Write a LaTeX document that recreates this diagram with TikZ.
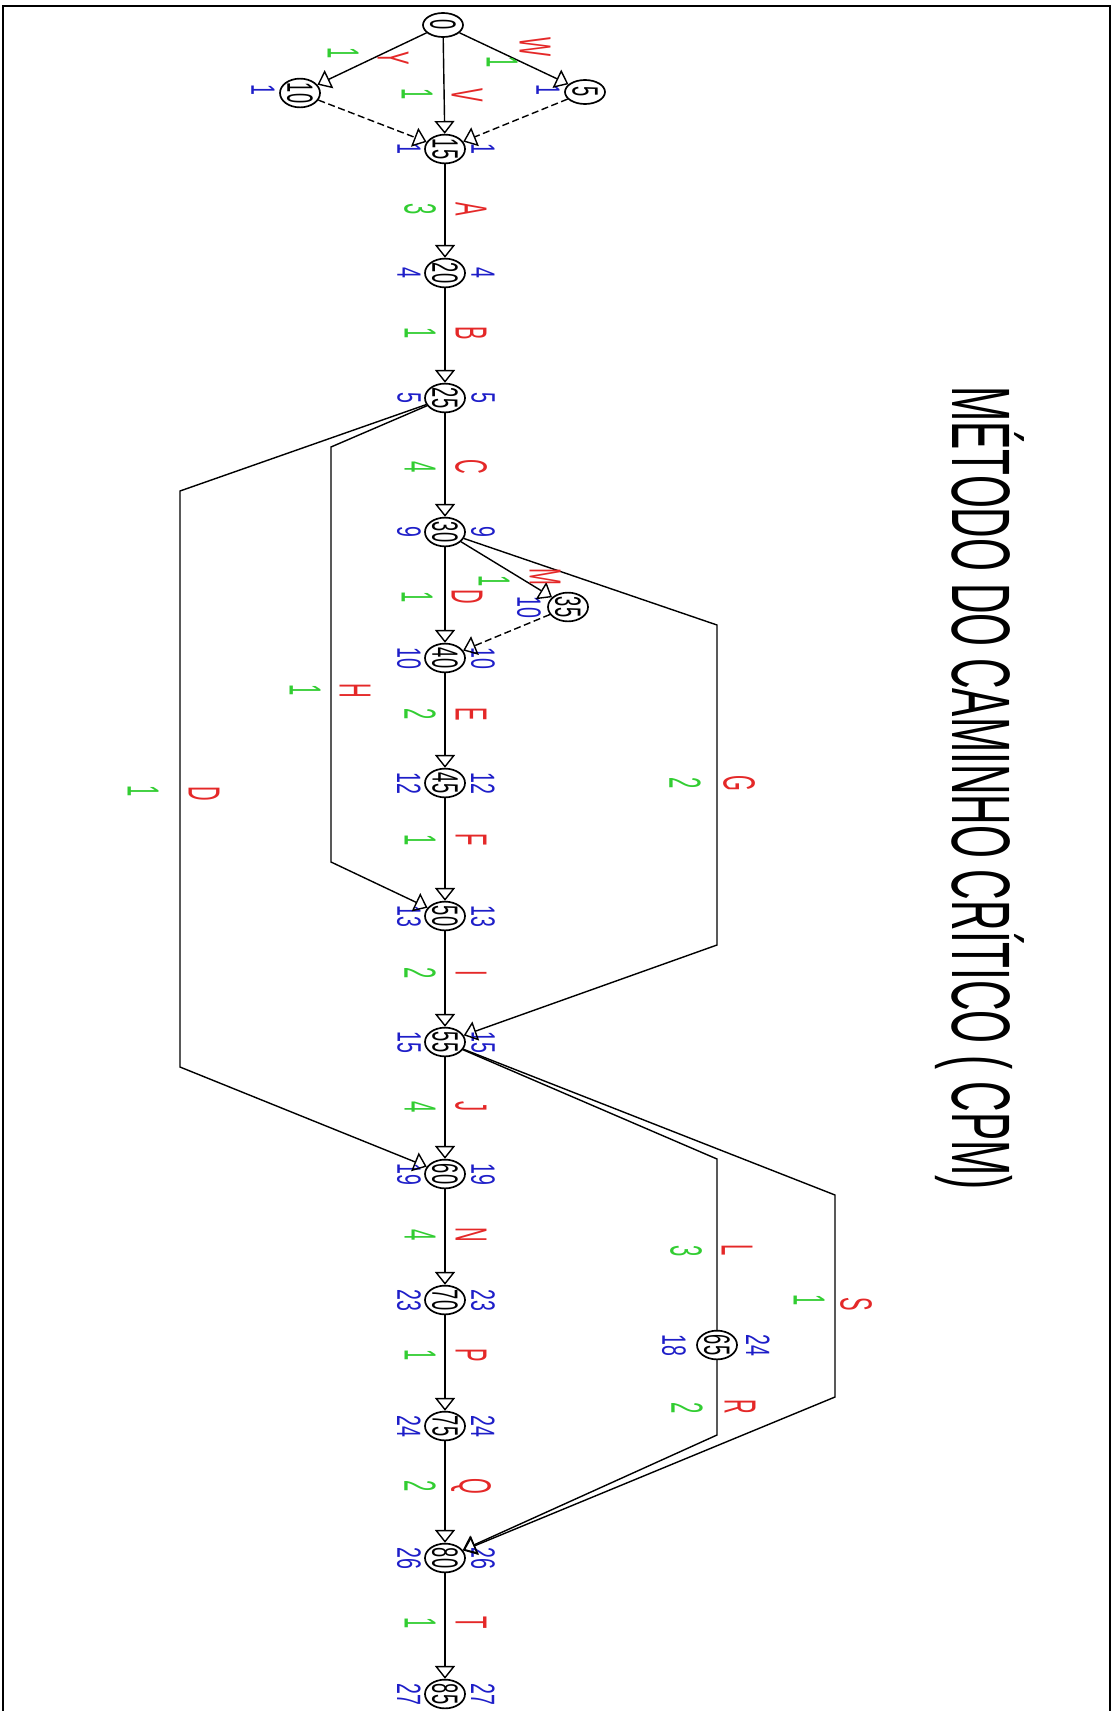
\documentclass[tikz,border=0pt]{standalone}
\usepackage{fontspec}
\setmainfont{Liberation Sans}
\usetikzlibrary{arrows.meta,shapes.geometric}
\definecolor{cadred}{RGB}{228,40,40}
\definecolor{cadgreen}{RGB}{50,205,50}
\definecolor{cadblue}{RGB}{30,30,200}
\newcommand{\cadtxt}[2][.5]{\scalebox{#1}[1]{#2}}
\tikzset{>={Triangle[open,length=3.2mm,width=5mm]},
  ev/.style={draw,ellipse,rotate=-90,line width=1.2pt,minimum width=.6cm,minimum height=1cm,
    inner sep=0pt,font=\fontsize{26}{26}\selectfont},
  actname/.style={text=cadred,rotate=-90,inner sep=0pt,font=\fontsize{32}{32}\selectfont},
  dur/.style={text=cadgreen,rotate=-90,inner sep=0pt,font=\fontsize{32}{32}\selectfont},
  tm/.style={text=cadblue,rotate=-90,inner sep=0pt,font=\fontsize{24}{24}\selectfont},
  arc/.style={->,line width=1pt},
  dummy/.style={->,line width=1pt,dash pattern=on 5pt off 2.5pt}}
\begin{document}
\begin{tikzpicture}[x=.025cm,y=-.025cm]
\useasboundingbox (0,0) rectangle (1115,1711);
\draw[line width=1.5pt] (3,1730) -- (3,6) -- (1110,6) -- (1110,1730);
\node[rotate=-90,inner sep=0pt,font=\fontsize{59}{59}\selectfont] (title) at (980,788)
  {\cadtxt[.51]{MÉTODO DO CAMINHO CRÍTICO ( CPM)}};
% events off the main line
\node[ev] (n0) at (443,25) {\cadtxt{0}};
\node[ev] (n10) at (300,93) {\cadtxt{10}};
\node[ev] (n5) at (585,92) {\cadtxt{5}};
\node[ev] (n35) at (568,607) {\cadtxt{35}};
\node[ev] (n65) at (717,1345) {\cadtxt{65}};
\node[tm] (l10) at (263,90) {\cadtxt[.58]{1}};
\node[tm] (l5) at (548,90) {\cadtxt[.58]{1}};
\node[tm] (l35) at (529,607) {\cadtxt[.58]{10}};
\node[tm] (l65) at (674,1345) {\cadtxt[.58]{18}};
\node[tm] (r65) at (758,1345) {\cadtxt[.58]{24}};
% events on the main line, with early / late times
\foreach \n/\yy/\t in {15/149/1,20/273/4,25/398/5,30/532/9,40/658/10,45/783/12,50/916/13,
  55/1042/15,60/1174/19,70/1300/23,75/1426/24,80/1558/26,85/1694/27}{
  \node[ev] (n\n) at (445,\yy) {\cadtxt{\n}};
  \node[tm] (l\n) at (409,\yy) {\cadtxt[.58]{\t}};
  \node[tm] (r\n) at (483,\yy) {\cadtxt[.58]{\t}};}
% start
\draw[arc] (n0) -- (n10);
\draw[arc] (n0) -- (n5);
\draw[arc] (n0) -- (n15);
\draw[dummy] (n10) -- (n15);
\draw[dummy] (n5) -- (n15);
\foreach \a/\b in {15/20,20/25,25/30,30/40,40/45,45/50,50/55,55/60,60/70,70/75,75/80,80/85}
  \draw[arc] (n\a) -- (n\b);
\draw[arc] (n30) -- (n35);
\draw[dummy] (n35) -- (n40);
% detours
\coordinate (cD1) at (180,491);
\coordinate (cD2) at (180,1067);
\coordinate (cH1) at (331,447);
\coordinate (cH2) at (331,862);
\coordinate (cG1) at (717,625);
\coordinate (cG2) at (717,945);
\coordinate (cL1) at (717,1159);
\coordinate (cR1) at (717,1435);
\coordinate (cS1) at (835,1195);
\coordinate (cS2) at (835,1397);
\draw[arc] (n25) -- (cD1) -- (cD2) -- (n60);
\draw[arc] (n25) -- (cH1) -- (cH2) -- (n50);
\draw[arc] (n30) -- (cG1) -- (cG2) -- (n55);
\draw[line width=1pt] (n55) -- (cL1) -- (n65);
\draw[arc] (n65) -- (cR1) -- (n80);
\draw[arc] (n55) -- (cS1) -- (cS2) -- (n80);
% activity names and durations
\foreach \a/\d/\yy in {A/3/209,B/1/333,C/4/467,E/2/714,F/1/840,I/2/973,J/4/1107,
  N/4/1235,P/1/1355,Q/2/1486,T/1/1623}{
  \node[actname] (a\a) at (471,\yy) {\cadtxt[.45]{\a}};
  \node[dur] (d\a) at (420,\yy) {\cadtxt[.45]{\d}};}
\node[actname] (aD) at (467,597) {\cadtxt[.45]{D}};
\node[dur] (dD) at (417,597) {\cadtxt[.45]{1}};
\node[actname] (aW) at (535,47) {\cadtxt[.45]{W}};
\node[dur] (dW) at (502,62) {\cadtxt[.45]{1}};
\node[actname] (aY) at (393,58) {\cadtxt[.45]{Y}};
\node[dur] (dY) at (343,53) {\cadtxt[.45]{1}};
\node[actname] (aV) at (467,95) {\cadtxt[.45]{V}};
\node[dur] (dV) at (417,94) {\cadtxt[.45]{1}};
\node[actname] (aM) at (545,577) {\cadtxt[.45]{M}};
\node[dur] (dM) at (494,581) {\cadtxt[.45]{1}};
\node[actname] (aH) at (355,691) {\cadtxt[.45]{H}};
\node[dur] (dH) at (305,690) {\cadtxt[.45]{1}};
\node[actname] (aG) at (739,783) {\cadtxt[.45]{G}};
\node[dur] (dG) at (685,783) {\cadtxt[.45]{2}};
\node[actname] (aD2) at (204,794) {\cadtxt[.45]{D}};
\node[dur] (dD2) at (143,791) {\cadtxt[.45]{1}};
\node[actname] (aL) at (737,1250) {\cadtxt[.45]{L}};
\node[dur] (dL) at (686,1251) {\cadtxt[.45]{3}};
\node[actname] (aR) at (740,1407) {\cadtxt[.45]{R}};
\node[dur] (dR) at (687,1408) {\cadtxt[.45]{2}};
\node[actname] (aS) at (856,1304) {\cadtxt[.45]{S}};
\node[dur] (dS) at (809,1300) {\cadtxt[.45]{1}};
\end{tikzpicture}
\end{document}
